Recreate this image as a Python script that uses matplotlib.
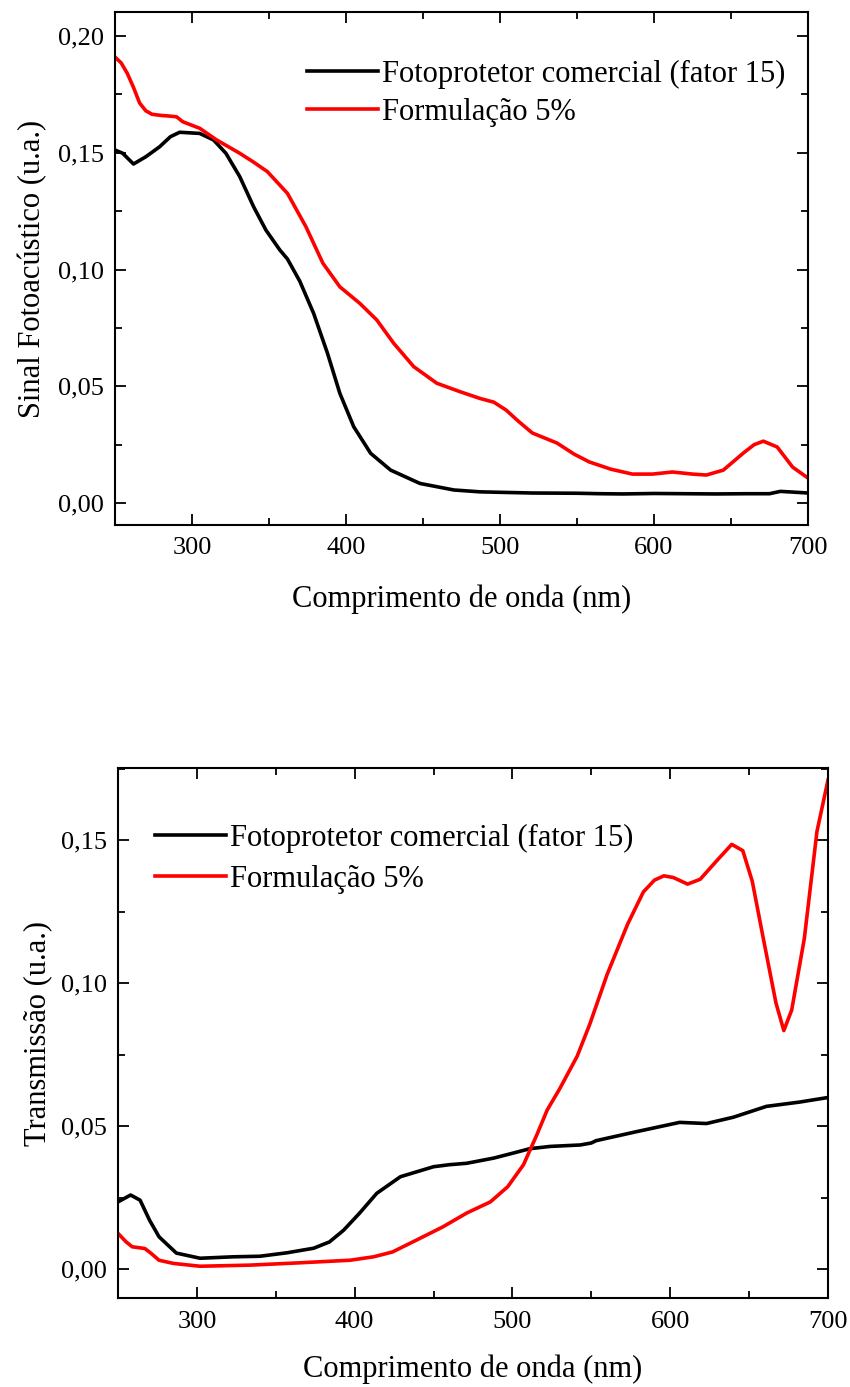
import matplotlib.pyplot as plt
from matplotlib.ticker import MultipleLocator, FuncFormatter

plt.rcParams["font.family"] = ["Liberation Serif", "DejaVu Serif"]

# sinal fotoacustico
pa_com_x = [250, 255, 262, 270, 279, 286, 292, 305, 314, 322, 331, 340, 348, 357, 362, 370,
            379, 388, 396, 405, 416, 429, 448, 470, 487, 500, 521, 550, 565, 580, 600, 620,
            640, 660, 675, 682, 690, 700]
pa_com_y = [0.1512, 0.1498, 0.1452, 0.1483, 0.1526, 0.1569, 0.1588, 0.1583, 0.1555, 0.1498,
            0.1398, 0.1269, 0.1169, 0.1084, 0.1045, 0.0950, 0.0812, 0.0641, 0.0470, 0.0327,
            0.0213, 0.0141, 0.0084, 0.0056, 0.0048, 0.0046, 0.0043, 0.0042, 0.0040, 0.0039,
            0.0041, 0.0040, 0.0039, 0.0040, 0.0040, 0.0050, 0.0047, 0.0043]
pa_form_x = [250, 254, 258, 262, 266, 270, 274, 280, 286, 290, 294, 305, 316, 331, 340, 349,
             362, 374, 385, 396, 409, 420, 431, 444, 459, 474, 487, 496, 504, 512, 521, 537,
             548, 558, 572, 586, 599, 612, 625, 634, 645, 658, 665, 671, 680, 690, 700]
pa_form_y = [0.1910, 0.1885, 0.1840, 0.1780, 0.1713, 0.1680, 0.1665, 0.1660, 0.1657, 0.1654,
             0.1633, 0.1605, 0.1555, 0.1498, 0.1460, 0.1419, 0.1326, 0.1183, 0.1027, 0.0926,
             0.0855, 0.0784, 0.0684, 0.0584, 0.0513, 0.0477, 0.0448, 0.0432, 0.0398, 0.0350,
             0.0300, 0.0257, 0.0210, 0.0176, 0.0145, 0.0124, 0.0124, 0.0133, 0.0124, 0.0120,
             0.0141, 0.0214, 0.0250, 0.0265, 0.0240, 0.0154, 0.0107]

# transmissao
tr_com_x = [250, 258, 264, 270, 276, 287, 302, 323, 340, 357, 374, 384, 393, 403, 414, 429,
            450, 460, 471, 488, 500, 511, 524, 543, 550, 553, 579, 606, 623, 640, 661, 682, 700]
tr_com_y = [0.0235, 0.0259, 0.0241, 0.0171, 0.0113, 0.0056, 0.0038, 0.0043, 0.0045, 0.0057,
            0.0073, 0.0095, 0.0136, 0.0195, 0.0265, 0.0323, 0.0358, 0.0365, 0.0370, 0.0388,
            0.0405, 0.0421, 0.0429, 0.0434, 0.0441, 0.0449, 0.0481, 0.0513, 0.0509, 0.0531,
            0.0569, 0.0584, 0.0600]
tr_form_x = [250, 255, 259, 267, 271, 276, 285, 302, 334, 365, 397, 412, 424, 439, 456, 471,
             486, 497, 507, 515.5, 522, 530, 541, 549, 560, 573, 583, 590, 596, 602, 611, 619,
             630, 639, 646, 652, 659, 667, 672, 677, 685, 693, 700]
tr_form_y = [0.0125, 0.0096, 0.0078, 0.0072, 0.0055, 0.0031, 0.0020, 0.0010, 0.0014, 0.0022,
             0.0031, 0.0043, 0.0060, 0.0101, 0.0148, 0.0196, 0.0235, 0.0288, 0.0365, 0.0470,
             0.0556, 0.0631, 0.0744, 0.0856, 0.1030, 0.1206, 0.1319, 0.1360, 0.1375, 0.1369,
             0.1346, 0.1363, 0.1431, 0.1485, 0.1463, 0.1356, 0.1156, 0.0931, 0.0834, 0.0906,
             0.1156, 0.1530, 0.1710]

rotulos = ["Fotoprotetor comercial (fator 15)", "Formulação 5%"]

fig = plt.figure(figsize=(8.5, 13.87), dpi=100)
W, H = 850, 1387
ax1 = fig.add_axes([115 / W, 1 - 525 / H, 693 / W, 513 / H])
ax2 = fig.add_axes([118 / W, 1 - 1298 / H, 710 / W, 530 / H])

virgula = FuncFormatter(lambda v, p: f"{v:.2f}".replace(".", ","))

for ax in (ax1, ax2):
    ax.set_xlim(250, 700)
    ax.xaxis.set_major_locator(MultipleLocator(100))
    ax.xaxis.set_minor_locator(MultipleLocator(50))
    ax.yaxis.set_major_locator(MultipleLocator(0.05))
    ax.yaxis.set_minor_locator(MultipleLocator(0.025))
    ax.yaxis.set_major_formatter(virgula)
    ax.tick_params(which="both", direction="in", top=True, right=True, width=1.3, labelsize=19)
    ax.tick_params(which="major", length=8)
    ax.tick_params(which="minor", length=5)
    ax.tick_params(axis="x", which="major", pad=9)
    ax.tick_params(axis="y", which="major", pad=8)
    for s in ax.spines.values():
        s.set_linewidth(1.5)

# graf 1
ax1.plot(pa_com_x, pa_com_y, color="black", lw=2.6, label=rotulos[0])
ax1.plot(pa_form_x, pa_form_y, color="red", lw=2.6, label=rotulos[1])
ax1.set_ylim(-0.0094, 0.2103)
ax1.set_xlabel("Comprimento de onda (nm)", fontsize=22, labelpad=18)
ax1.set_ylabel("Sinal Fotoacústico (u.a.)", fontsize=22, labelpad=8)
ax1.legend(loc="upper left", bbox_to_anchor=(0.2556, 0.936), frameon=False, fontsize=22,
           handlelength=2.3, handletextpad=0.15, labelspacing=0.28, borderpad=0)

# graf 2
ax2.plot(tr_com_x, tr_com_y, color="black", lw=2.6, label=rotulos[0])
ax2.plot(tr_form_x, tr_form_y, color="red", lw=2.6, label=rotulos[1])
ax2.set_ylim(-0.0101, 0.1752)
ax2.set_xlabel("Comprimento de onda (nm)", fontsize=22, labelpad=16)
ax2.set_ylabel("Transmissão (u.a.)", fontsize=22, labelpad=6)
ax2.legend(loc="upper left", bbox_to_anchor=(0.031, 0.923), frameon=False, fontsize=22,
           handlelength=2.3, handletextpad=0.15, labelspacing=0.38, borderpad=0)

fig.savefig("out.png", dpi=100)
plt.close()
